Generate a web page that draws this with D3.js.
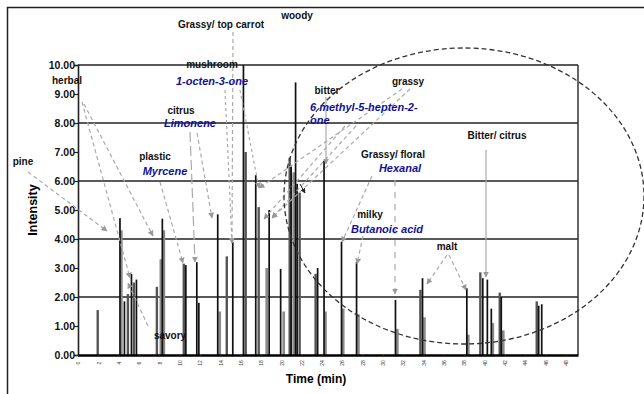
<!DOCTYPE html>
<html>
<head>
<meta charset="utf-8">
<script src="https://cdn.jsdelivr.net/npm/d3@7/dist/d3.min.js"></script>
<style>
  body { margin: 0; background: #fff; }
  svg { display: block; font-family: Arial, "Liberation Sans", sans-serif; }
</style>
</head>
<body>
<svg id="chart" width="644" height="394"></svg>
<script>
// peak times (min) and intensities, one pair of arrays per shade
const blackTimes = [4.13, 4.57, 5.26, 5.75, 8.30, 10.61, 11.69, 11.89, 13.75, 15.23, 16.28, 17.49, 18.81, 19.94, 20.97, 21.41, 21.56, 23.58, 24.21, 25.93, 27.41, 31.24, 33.90, 38.26, 39.83, 40.28, 40.67, 41.65, 45.33, 45.63];
const blackValues = [4.72, 1.85, 2.80, 2.60, 4.70, 3.10, 3.20, 1.80, 4.85, 3.90, 10.0, 6.20, 5.00, 2.97, 6.50, 9.40, 5.90, 3.00, 6.70, 3.90, 3.20, 1.90, 2.65, 2.30, 2.65, 2.60, 1.60, 2.00, 1.70, 1.75];

const darkTimes = [1.94, 4.91, 5.50, 7.76, 10.41, 14.64, 16.50, 17.78, 20.83, 21.81, 23.38, 33.69, 39.59, 41.50, 45.14];
const darkValues = [1.55, 2.10, 2.50, 2.35, 3.15, 3.40, 7.00, 5.10, 6.80, 5.60, 2.80, 2.25, 2.85, 2.15, 1.85];

const greyTimes = [4.27, 8.15, 8.45, 13.95, 18.57, 20.24, 21.22, 24.36, 26.10, 27.60, 31.43, 34.09, 38.41, 40.82, 41.85];
const greyValues = [4.30, 3.30, 4.30, 1.50, 3.00, 1.50, 6.30, 1.50, 1.60, 1.40, 0.90, 1.30, 0.70, 1.10, 0.85];

const yTicks = [0, 1, 2, 3, 4, 5, 6, 7, 8, 9, 10];
const gridValues = [2, 4, 6, 8, 10];
const xTicks = d3.range(0, 49, 2);

// odour descriptors and compound names
const descriptors = ["Grassy/ top carrot", "woody", "mushroom", "herbal", "citrus", "plastic", "pine", "bitter", "grassy", "Grassy/ floral", "milky", "malt", "Bitter/ citrus", "savory"];
const compounds = ["1-octen-3-one", "Limonene", "Myrcene", "6 methyl-5-hepten-2-", "one", "Hexanal", "Butanoic acid"];

const svg = d3.select("#chart");
const plotLeft = 78, plotRight = 578, plotTop = 65, plotBottom = 355;

const x = d3.scaleLinear().domain([0, 49.2]).range([plotLeft, plotRight]);
const y = d3.scaleLinear().domain([0, 10]).range([plotBottom, plotTop]);

// outer frame (runs off the right / bottom edge)
svg.append("rect")
  .attr("x", 7.5).attr("y", 7.5).attr("width", 660).attr("height", 400)
  .attr("fill", "none").attr("stroke", "#222").attr("stroke-width", 1.5);

// grid lines
svg.append("g").selectAll("line")
  .data(gridValues)
  .enter().append("line")
    .attr("x1", plotLeft).attr("x2", plotRight)
    .attr("y1", d => y(d)).attr("y2", d => y(d))
    .attr("stroke", "#222").attr("stroke-width", 1.6);

// right border of plot
svg.append("line")
  .attr("x1", plotRight).attr("x2", plotRight).attr("y1", plotTop).attr("y2", plotBottom)
  .attr("stroke", "#333").attr("stroke-width", 1.5);

// bars
function drawBars(times, values, color, w) {
  svg.append("g").selectAll("rect")
    .data(times.map((t, i) => ({t: t, v: values[i]})))
    .enter().append("rect")
      .attr("x", d => x(d.t) - w / 2)
      .attr("y", d => y(d.v))
      .attr("width", w)
      .attr("height", d => plotBottom - y(d.v))
      .attr("fill", color);
}
drawBars(greyTimes, greyValues, "#8a8a8a", 2.6);
drawBars(darkTimes, darkValues, "#555", 2.4);
drawBars(blackTimes, blackValues, "#111", 1.7);

// y axis
const yAxis = svg.append("g")
  .attr("transform", "translate(" + plotLeft + ",0)")
  .call(d3.axisLeft(y).tickValues(yTicks).tickFormat(d3.format(".2f")).tickSizeOuter(0).tickSize(4));
yAxis.select(".domain").attr("stroke", "#222").attr("stroke-width", 1.6);
yAxis.selectAll(".tick line").attr("stroke", "#222").attr("stroke-width", 1.2);
yAxis.selectAll("text")
  .attr("font-size", 10.5).attr("font-weight", "bold").attr("fill", "#111")
  .attr("font-family", "Arial, 'Liberation Sans', sans-serif").attr("x", -3);

// x axis
const xAxis = svg.append("g")
  .attr("transform", "translate(0," + plotBottom + ")")
  .call(d3.axisBottom(x).tickValues(xTicks).tickSize(2).tickSizeOuter(0));
xAxis.select(".domain").attr("stroke", "#000").attr("stroke-width", 2.6);
xAxis.selectAll(".tick line").attr("stroke", "#333");
xAxis.selectAll("text")
  .attr("font-size", 5).attr("fill", "#333")
  .attr("font-family", "Arial, 'Liberation Sans', sans-serif")
  .attr("transform", "translate(0,8) rotate(-90)")
  .attr("y", 0).attr("dy", "0.35em")
  .style("text-anchor", "middle");

svg.append("text")
  .attr("x", 316).attr("y", 383)
  .attr("text-anchor", "middle").attr("font-size", 12).attr("font-weight", "bold")
  .text("Time (min)");

svg.append("text")
  .attr("transform", "translate(37,210) rotate(-90)")
  .attr("text-anchor", "middle").attr("font-size", 12.5).attr("font-weight", "bold")
  .text("Intensity");

// arrowheads
const defs = svg.append("defs");
defs.append("marker").attr("id", "ag")
  .attr("viewBox", "0 0 10 10").attr("refX", 9).attr("refY", 5)
  .attr("markerWidth", 5).attr("markerHeight", 5).attr("orient", "auto")
  .append("path").attr("d", "M0,0L10,5L0,10Z").attr("fill", "#999");
defs.append("marker").attr("id", "ak")
  .attr("viewBox", "0 0 10 10").attr("refX", 9).attr("refY", 5)
  .attr("markerWidth", 5).attr("markerHeight", 5).attr("orient", "auto")
  .append("path").attr("d", "M0,0L10,5L0,10Z").attr("fill", "#222");

// leader lines from labels to peaks
const leaders = [
  [28, 172, 107, 231, "4,3"],
  [82, 102, 130, 278, "4,3"],
  [84, 104, 153, 236, "4,3"],
  [160, 182, 183, 263, "4,3"],
  [190, 132, 195, 262, "10,4"],
  [197, 133, 212, 218, "4,3"],
  [233, 32, 232, 243, "4,3"],
  [225, 90, 232, 243, "3,3"],
  [240, 90, 259, 188, "3,3"],
  [326, 97, 326, 164, "none"],
  [345, 126, 264, 219, "4,3"],
  [356, 126, 272, 218, "4,3"],
  [402, 89, 259, 188, "4,3"],
  [410, 89, 272, 218, "4,3"],
  [372, 176, 342, 242, "4,3"],
  [395, 180, 395, 294, "6,6"],
  [363, 236, 357, 264, "4,3"],
  [447, 255, 427, 284, "4,3"],
  [449, 255, 466, 290, "4,3"],
  [486, 150, 486, 277, "none"],
  [148, 326, 128, 283, "4,3"]
];
svg.append("g").selectAll("line")
  .data(leaders)
  .enter().append("line")
    .attr("x1", d => d[0]).attr("y1", d => d[1])
    .attr("x2", d => d[2]).attr("y2", d => d[3])
    .attr("stroke", "#aaa").attr("stroke-width", 1.2)
    .attr("stroke-dasharray", d => d[4])
    .attr("marker-end", "url(#ag)");

// short dark pointer inside the cluster
svg.append("line")
  .attr("x1", 300).attr("y1", 184).attr("x2", 305).attr("y2", 193)
  .attr("stroke", "#222").attr("stroke-width", 1).attr("marker-end", "url(#ak)");

// dashed ellipse around late-eluting peaks
svg.append("ellipse")
  .attr("cx", 464).attr("cy", 196).attr("rx", 180).attr("ry", 148)
  .attr("fill", "none").attr("stroke", "#333").attr("stroke-width", 1.3)
  .attr("stroke-dasharray", "5,3");

// label placement
const descPos = [[221, 28], [297, 19], [212, 68], [67, 84], [181, 114], [155, 160], [23, 165], [327, 94], [408, 85], [393, 158], [370, 218], [447, 250], [497, 139], [170, 339]];
const compPos = [[212, 85], [190, 127], [165, 175], [310, 111], [310, 124], [400, 172], [387, 233]];

svg.append("g").selectAll("text")
  .data(descriptors)
  .enter().append("text")
    .attr("x", (d, i) => descPos[i][0]).attr("y", (d, i) => descPos[i][1])
    .attr("text-anchor", "middle").attr("font-size", 10).attr("font-weight", "bold")
    .attr("fill", "#111")
    .text(d => d);

svg.append("g").selectAll("text")
  .data(compounds)
  .enter().append("text")
    .attr("x", (d, i) => compPos[i][0]).attr("y", (d, i) => compPos[i][1])
    .attr("text-anchor", (d, i) => (i === 3 || i === 4) ? "start" : "middle")
    .attr("font-size", 11).attr("font-weight", "bold").attr("font-style", "italic")
    .attr("fill", "#10109a")
    .text(d => d);
</script>
</body>
</html>
